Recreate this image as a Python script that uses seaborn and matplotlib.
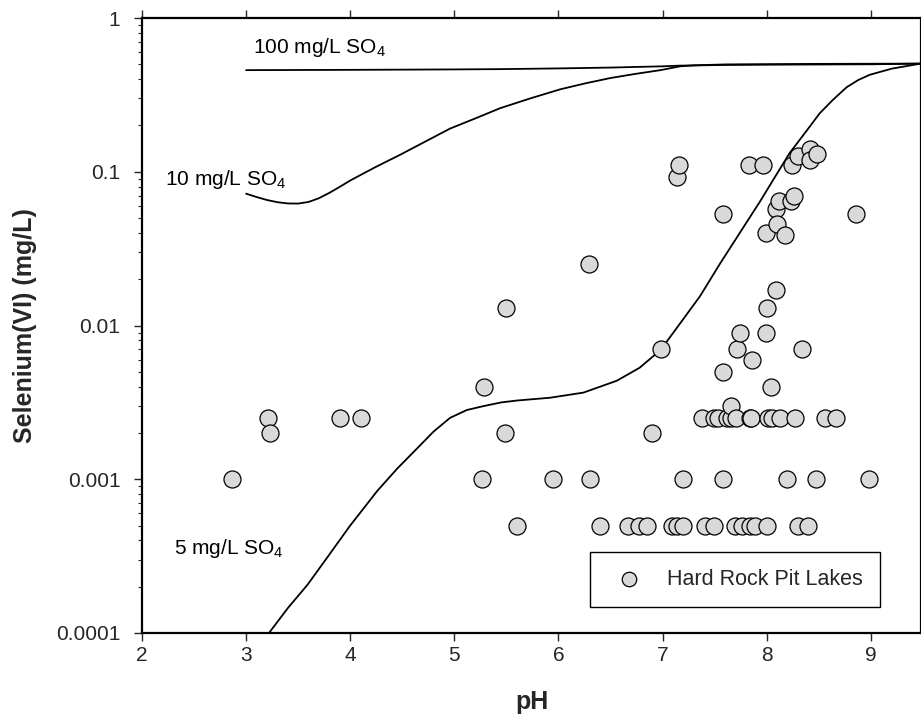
import matplotlib
matplotlib.use("Agg")
import matplotlib.pyplot as plt
import matplotlib.ticker as mticker
import numpy as np
import pandas as pd
import seaborn as sns

# Hard rock pit lake observations: pH and dissolved selenium(VI), mg/L
lake_ph = [2.86, 3.21, 3.23, 3.90, 4.10, 5.27, 5.29, 5.49, 5.50, 5.60,
           5.95, 6.29, 6.30, 6.40, 6.67, 6.77, 6.85, 6.90, 6.99, 7.09,
           7.14, 7.14, 7.16, 7.20, 7.20, 7.38, 7.41, 7.49, 7.49, 7.53,
           7.58, 7.58, 7.58, 7.62, 7.66, 7.66, 7.70, 7.71, 7.72, 7.74,
           7.76, 7.83, 7.84, 7.84, 7.85, 7.86, 7.89, 7.97, 7.99, 7.99,
           8.00, 8.00, 8.01, 8.04, 8.05, 8.09, 8.09, 8.10, 8.12, 8.13,
           8.18, 8.20, 8.23, 8.24, 8.26, 8.27, 8.30, 8.30, 8.34, 8.40,
           8.42, 8.42, 8.48, 8.47, 8.56, 8.67, 8.86, 8.98]
lake_se = [0.001, 0.0025, 0.002, 0.0025, 0.0025, 0.001, 0.004, 0.002, 0.013, 0.0005,
           0.001, 0.025, 0.001, 0.0005, 0.0005, 0.0005, 0.0005, 0.002, 0.007, 0.0005,
           0.0005, 0.092, 0.11, 0.0005, 0.001, 0.0025, 0.0005, 0.0005, 0.0025, 0.0025,
           0.001, 0.005, 0.053, 0.0025, 0.0025, 0.003, 0.0005, 0.0025, 0.007, 0.009,
           0.0005, 0.11, 0.0005, 0.0025, 0.0025, 0.006, 0.0005, 0.11, 0.009, 0.04,
           0.0005, 0.013, 0.0025, 0.004, 0.0025, 0.017, 0.057, 0.046, 0.065, 0.0025,
           0.039, 0.001, 0.065, 0.11, 0.07, 0.0025, 0.0005, 0.126, 0.007, 0.0005,
           0.14, 0.12, 0.13, 0.001, 0.0025, 0.0025, 0.053, 0.001]

# Solubility limit curves for three sulfate concentrations
so4_100_ph = [3.0, 4.0, 5.0, 5.44, 6.0, 6.5, 7.0, 7.17, 7.6, 8.0, 9.0, 9.48]
so4_100_se = [0.458, 0.46, 0.463, 0.465, 0.47, 0.476, 0.485, 0.49, 0.495, 0.497, 0.5, 0.505]

so4_10_ph = [3.0, 3.1, 3.2, 3.3, 3.4, 3.5, 3.6, 3.7, 3.8, 3.9, 4.0, 4.24,
             4.48, 4.72, 4.96, 5.2, 5.44, 5.73, 6.02, 6.26, 6.5, 6.74,
             6.98, 7.1, 7.17, 7.3, 7.6, 8.5, 9.48]
so4_10_se = [0.072, 0.0685, 0.0655, 0.0634, 0.0622, 0.0621, 0.0636, 0.0673, 0.0729,
             0.0798, 0.0877, 0.107, 0.129, 0.157, 0.191, 0.222, 0.259, 0.30, 0.344,
             0.376, 0.407, 0.433, 0.458, 0.475, 0.485, 0.492, 0.499, 0.503, 0.505]

so4_5_ph = [3.22, 3.4, 3.59, 3.8, 4.0, 4.26, 4.45, 4.64, 4.8, 4.96, 5.12, 5.28,
            5.45, 5.6, 5.92, 6.24, 6.56, 6.78, 6.98, 7.1, 7.22, 7.36, 7.55,
            7.74, 7.94, 8.13, 8.22, 8.32, 8.42, 8.51, 8.64, 8.77, 8.88, 8.99,
            9.2, 9.48]
so4_5_se = [0.0001, 0.000145, 0.000206, 0.000324, 0.0005, 0.00084, 0.00117,
            0.00158, 0.00204, 0.00251, 0.00282, 0.00299, 0.00316, 0.00325, 0.00339,
            0.00366, 0.00437, 0.00531, 0.00692, 0.00891, 0.0115, 0.0155, 0.0251,
            0.0398, 0.0646, 0.105, 0.132, 0.162, 0.199, 0.24, 0.295, 0.355, 0.395,
            0.427, 0.468, 0.505]

curve_labels = ["100 mg/L SO$_{\\mathrm{4}}$", "10 mg/L SO$_{\\mathrm{4}}$", "5 mg/L SO$_{\\mathrm{4}}$"]
curve_label_pos = [(3.07, 0.59), (2.22, 0.0814), (2.31, 0.000325)]

y_ticks = [0.0001, 0.001, 0.01, 0.1, 1]
y_tick_labels = ["0.0001", "0.001", "0.01", "0.1", "1"]
x_ticks = [2, 3, 4, 5, 6, 7, 8, 9]

sns.set_style("ticks")
plt.rcParams["font.family"] = ["Liberation Sans", "DejaVu Sans"]
plt.rcParams["mathtext.fontset"] = "custom"
plt.rcParams["mathtext.rm"] = "Liberation Sans"
plt.rcParams["mathtext.it"] = "Liberation Sans:italic"
plt.rcParams["mathtext.bf"] = "Liberation Sans:bold"

fig = plt.figure(figsize=(9.21, 7.21), dpi=100)
ax = fig.add_axes([142 / 921, 88 / 721, (921 - 142) / 921, 615 / 721])

curves = [(so4_100_ph, so4_100_se), (so4_10_ph, so4_10_se), (so4_5_ph, so4_5_se)]
for cx, cy in curves:
    df_c = pd.DataFrame({"pH": cx, "Se": cy})
    sns.lineplot(data=df_c, x="pH", y="Se", ax=ax, color="black", lw=1.3,
                 sort=False, estimator=None)

df = pd.DataFrame({"pH": lake_ph, "Se": lake_se})
sns.scatterplot(data=df, x="pH", y="Se", ax=ax, s=150, color="#d9d9d9",
                edgecolor="black", linewidth=0.9, label="Hard Rock Pit Lakes",
                zorder=3)

for txt, (tx, ty) in zip(curve_labels, curve_label_pos):
    ax.text(tx, ty, txt, fontsize=15, ha="left", va="baseline", color="black")

ax.set_yscale("log")
ax.set_xlim(2, 9.483)
ax.set_ylim(0.0001, 1)
ax.set_xticks(x_ticks)
ax.set_yticks(y_ticks)
ax.yaxis.set_major_formatter(mticker.FixedFormatter(y_tick_labels))
ax.yaxis.set_minor_locator(mticker.LogLocator(base=10, subs=np.arange(2, 10)))
ax.yaxis.set_minor_formatter(mticker.NullFormatter())

ax.tick_params(axis="x", which="major", direction="out", length=5.5, width=1.0,
               pad=4, labelsize=15, top=True, labeltop=False, bottom=True)
ax.tick_params(axis="y", which="major", direction="out", length=5.5, width=1.0,
               pad=10, labelsize=15)
ax.tick_params(axis="y", which="minor", direction="out", length=3, width=0.8)

for side in ["left", "bottom", "top", "right"]:
    ax.spines[side].set_visible(True)
    ax.spines[side].set_linewidth(1.6)
    ax.spines[side].set_color("black")

ax.set_xlabel("pH", fontsize=18, fontweight="bold", labelpad=18)
ax.set_ylabel("Selenium(VI) (mg/L)", fontsize=18, fontweight="bold", labelpad=14)

leg = ax.legend(loc="lower left", bbox_to_anchor=(0.5745, 0.0418), frameon=True,
                fancybox=False, framealpha=1, edgecolor="black", borderaxespad=0,
                fontsize=15.5, handletextpad=0.7, borderpad=0.8, handlelength=2.1,
                markerscale=0.85)
leg.get_frame().set_linewidth(1.0)

fig.savefig("out.png", dpi=100)
